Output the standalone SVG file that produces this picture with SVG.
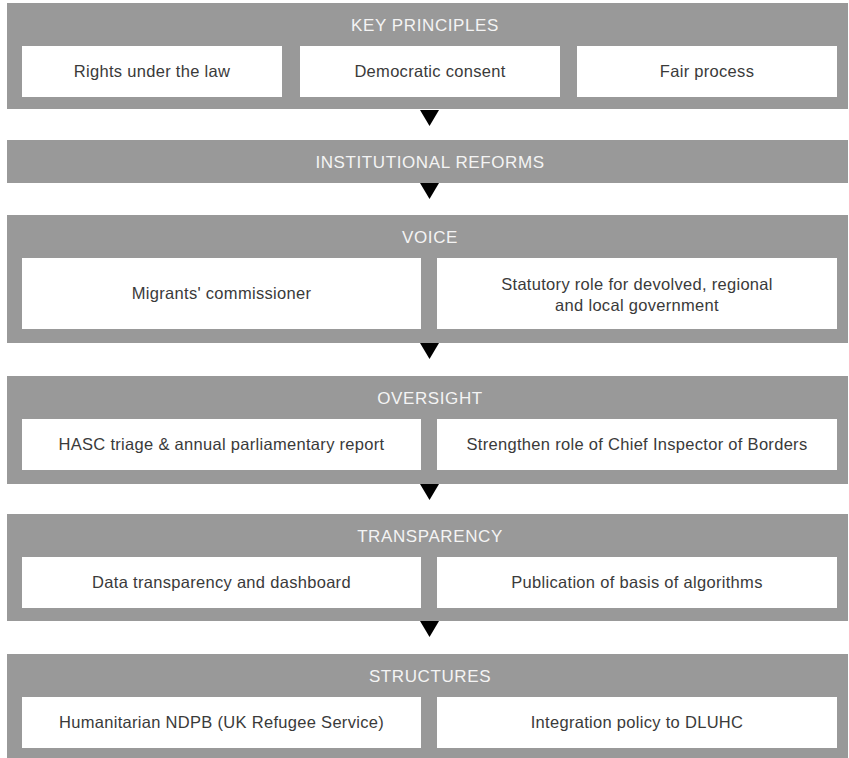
<svg xmlns="http://www.w3.org/2000/svg" width="849" height="758" viewBox="0 0 849 758">
<style>
.panel{fill:#999999}
.box{fill:#ffffff}
.hdr{font-family:"Liberation Sans",Arial,sans-serif;font-size:17px;letter-spacing:0.6px;fill:#f4f4f4;text-anchor:middle}
.txt{font-family:"Liberation Sans",Arial,sans-serif;font-size:16.5px;letter-spacing:0.3px;fill:#3a3a3a;text-anchor:middle}
.arr{fill:#000000}
</style>
<rect width="849" height="758" fill="#ffffff"/>
<g id="key-principles">
<rect class="panel" x="7" y="3" width="841" height="106"/>
<text class="hdr" x="425" y="31">KEY PRINCIPLES</text>
<g id="rights"><rect class="box" x="22" y="46" width="260" height="51"/><text class="txt" x="152" y="77">Rights under the law</text></g>
<g id="consent"><rect class="box" x="300" y="46" width="260" height="51"/><text class="txt" x="430" y="77">Democratic consent</text></g>
<g id="fair"><rect class="box" x="577" y="46" width="260" height="51"/><text class="txt" x="707" y="77">Fair process</text></g>
</g>
<g id="institutional-reforms">
<rect class="panel" x="7" y="140" width="841" height="43"/>
<text class="hdr" x="430" y="168">INSTITUTIONAL REFORMS</text>
</g>
<g id="voice">
<rect class="panel" x="7" y="215" width="841" height="128"/>
<text class="hdr" x="430" y="243">VOICE</text>
<g id="commissioner"><rect class="box" x="22" y="258" width="399" height="71"/><text class="txt" x="221.5" y="299">Migrants' commissioner</text></g>
<g id="statutory"><rect class="box" x="437" y="258" width="400" height="71"/><text class="txt" x="637" y="290">Statutory role for devolved, regional</text><text class="txt" x="637" y="311">and local government</text></g>
</g>
<g id="oversight">
<rect class="panel" x="7" y="376" width="841" height="108"/>
<text class="hdr" x="430" y="404">OVERSIGHT</text>
<g id="hasc"><rect class="box" x="22" y="419" width="399" height="51"/><text class="txt" x="221.5" y="450">HASC triage &amp; annual parliamentary report</text></g>
<g id="inspector"><rect class="box" x="437" y="419" width="400" height="51"/><text class="txt" x="637" y="450">Strengthen role of Chief Inspector of Borders</text></g>
</g>
<g id="transparency">
<rect class="panel" x="7" y="514" width="841" height="107"/>
<text class="hdr" x="430" y="542">TRANSPARENCY</text>
<g id="data"><rect class="box" x="22" y="557" width="399" height="51"/><text class="txt" x="221.5" y="588">Data transparency and dashboard</text></g>
<g id="algorithms"><rect class="box" x="437" y="557" width="400" height="51"/><text class="txt" x="637" y="588">Publication of basis of algorithms</text></g>
</g>
<g id="structures">
<rect class="panel" x="7" y="654" width="841" height="110"/>
<text class="hdr" x="430" y="682">STRUCTURES</text>
<g id="ndpb"><rect class="box" x="22" y="697" width="399" height="51"/><text class="txt" x="221.5" y="728">Humanitarian NDPB (UK Refugee Service)</text></g>
<g id="dluhc"><rect class="box" x="437" y="697" width="400" height="51"/><text class="txt" x="637" y="728">Integration policy to DLUHC</text></g>
</g>
<g id="connectors">
<polygon class="arr" points="420,110 439,110 429.5,126"/>
<polygon class="arr" points="420,183 439,183 429.5,199"/>
<polygon class="arr" points="420,343 439,343 429.5,359"/>
<polygon class="arr" points="420,484 439,484 429.5,500"/>
<polygon class="arr" points="420,621 439,621 429.5,637"/>
</g>
</svg>
